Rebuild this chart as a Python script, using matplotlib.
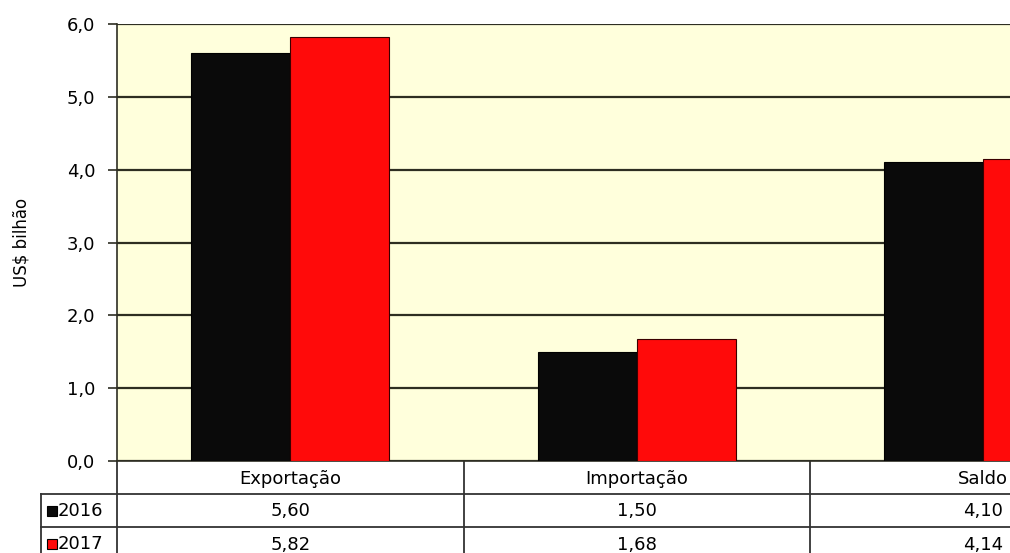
import numpy as np
import matplotlib.pyplot as plt
import matplotlib.transforms as mtransforms

categories = ["Exportação", "Importação", "Saldo"]
years = ["2016", "2017"]
values_2016 = [5.60, 1.50, 4.10]
values_2017 = [5.82, 1.68, 4.14]
yticks = [0.0, 1.0, 2.0, 3.0, 4.0, 5.0, 6.0]

colors = ["#0a0a0a", "#ff0a0a"]
bg = "#ffffdc"
line_col = "#2e2e22"

plt.rcParams['font.family'] = ['DejaVu Sans']

fig = plt.figure(figsize=(10.1, 5.53), dpi=100)
# plot area runs past the right edge (the original is cropped)
ax = fig.add_axes([117 / 1010, 92 / 553, 1039.5 / 1010, 437 / 553])
ax.set_facecolor(bg)

x = np.arange(len(categories))
w = 0.285
ax.bar(x - w / 2, values_2016, w, color=colors[0], edgecolor="#000000", linewidth=0.8, zorder=3)
ax.bar(x + w / 2, values_2017, w, color=colors[1], edgecolor="#3a0000", linewidth=0.8, zorder=3)

ax.set_xlim(-0.5, len(categories) - 0.5)
ax.set_ylim(0, 6)
ax.set_yticks(yticks)
ax.set_yticklabels([f"{v:.1f}".replace(".", ",") for v in yticks], fontsize=13)
ax.yaxis.grid(True, color=line_col, linewidth=1.6, zorder=1)
ax.set_xticks([])
ax.tick_params(axis="y", length=6.5, width=1.2, color=line_col, pad=9)
for s in ["top", "right"]:
    ax.spines[s].set_visible(False)
ax.spines["left"].set_color(line_col)
ax.spines["left"].set_linewidth(1.2)
ax.spines["bottom"].set_color(line_col)
ax.spines["bottom"].set_linewidth(1.2)
ax.set_ylabel("US$ bilhão", fontsize=12)
ax.yaxis.set_label_coords(-86 / 1039.5, 0.5)

# data table under the plot
trans = mtransforms.blended_transform_factory(ax.transData, ax.transAxes)
row_h = 33 / 437
x_left = -0.5 - 76 / 346.5
x_end = len(categories) - 0.5
lc = "#333333"
fs = 13

def hline(y, x0):
    ax.plot([x0, x_end], [y, y], color=lc, linewidth=1.3, transform=trans, clip_on=False)

def vline(xv, y0, y1):
    ax.plot([xv, xv], [y0, y1], color=lc, linewidth=1.3, transform=trans, clip_on=False)

y_rows = [0, -row_h, -2 * row_h, -3 * row_h]
hline(y_rows[1], x_left)
hline(y_rows[2], x_left)
hline(y_rows[3], x_left)
vline(x_left, y_rows[1], y_rows[3])
for i in range(len(categories) + 1):
    vline(i - 0.5, 0, y_rows[3])

for i, cat in enumerate(categories):
    ax.text(i, -row_h * 0.55, cat, transform=trans, ha="center", va="center", fontsize=fs, clip_on=False)
    ax.text(i, -1.52 * row_h, f"{values_2016[i]:.2f}".replace(".", ","), transform=trans,
            ha="center", va="center", fontsize=fs, clip_on=False)
    ax.text(i, -2.55 * row_h, f"{values_2017[i]:.2f}".replace(".", ","), transform=trans,
            ha="center", va="center", fontsize=fs, clip_on=False)

for j, yr in enumerate(years):
    yc = -(j + 1.52) * row_h
    ax.plot([x_left + 0.032], [yc], marker="s", markersize=7, color=colors[j],
            markeredgecolor="#000000", markeredgewidth=0.8, transform=trans, clip_on=False)
    ax.text(x_left + 0.049, yc, yr, transform=trans, ha="left", va="center", fontsize=fs, clip_on=False)

fig.savefig("out.png", dpi=100)
